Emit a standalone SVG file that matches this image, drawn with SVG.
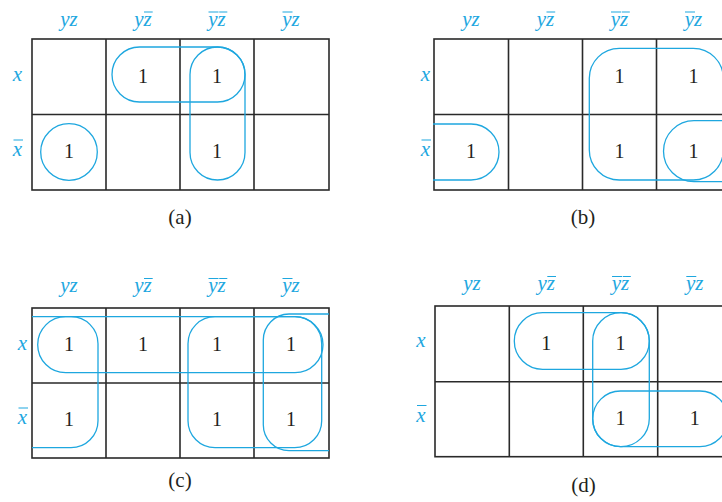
<svg xmlns="http://www.w3.org/2000/svg" width="722" height="502" viewBox="0 0 722 502">
<style>
.grid{fill:none;stroke:#2a2a2a;stroke-width:1.6}
.loop{fill:none;stroke:#1ea7df;stroke-width:1.3}
.bar{fill:none;stroke:#1ea7df;stroke-width:1.1}
.hdr{font-family:"Liberation Serif","Times New Roman",serif;font-style:italic;font-size:21px;fill:#1ea7df;text-anchor:middle}
.one{font-family:"Liberation Serif","Times New Roman",serif;font-size:20px;fill:#231f20;text-anchor:middle}
.cap{font-family:"Liberation Serif","Times New Roman",serif;font-size:21px;fill:#231f20;text-anchor:middle}
</style>
<rect width="722" height="502" fill="#fff"/>

<g id="map-a">
  <g id="a-grid">
    <rect class="grid" x="32" y="39" width="297" height="151"/>
    <path class="grid" d="M106,39V190M180,39V190M254,39V190M32,114.5H329"/>
  </g>
  <g id="a-headers">
    <text class="hdr" x="69" y="25.5">yz</text>
    <text class="hdr" x="143" y="25.5">yz</text>
    <text class="hdr" x="217" y="25.5">yz</text>
    <text class="hdr" x="291" y="25.5">yz</text>
    <text class="hdr" x="17.5" y="81">x</text>
    <text class="hdr" x="17.5" y="156">x</text>
    <path class="bar" d="M144,12H152.7M208.5,12H218.5M219.2,12H227.3M282.5,12H292.5M13.5,140H23"/>
  </g>
  <g id="a-cells">
    <text class="one" x="143" y="82.5">1</text>
    <text class="one" x="217" y="82.5">1</text>
    <text class="one" x="69" y="157.5">1</text>
    <text class="one" x="217" y="157.5">1</text>
  </g>
  <g id="a-loops">
    <circle class="loop" cx="69" cy="152" r="28.3"/>
    <rect class="loop" x="112" y="47" width="133" height="55" rx="27.5"/>
    <rect class="loop" x="190" y="47" width="55" height="133" rx="27.5"/>
  </g>
  <text class="cap" x="180" y="224">(a)</text>
</g>

<g id="map-b">
  <g id="b-grid">
    <rect class="grid" x="434" y="39" width="297" height="151"/>
    <path class="grid" d="M508.5,39V190M582.5,39V190M656.5,39V190M434,114.5H731"/>
  </g>
  <g id="b-headers">
    <text class="hdr" x="471" y="25.5">yz</text>
    <text class="hdr" x="545.5" y="25.5">yz</text>
    <text class="hdr" x="619.5" y="25.5">yz</text>
    <text class="hdr" x="693.5" y="25.5">yz</text>
    <text class="hdr" x="425.5" y="81">x</text>
    <text class="hdr" x="425.5" y="156">x</text>
    <path class="bar" d="M546.5,12H555.2M611,12H621M621.7,12H629.8M685,12H695M421.5,140H431"/>
  </g>
  <g id="b-cells">
    <text class="one" x="619.5" y="82.5">1</text>
    <text class="one" x="693.5" y="82.5">1</text>
    <text class="one" x="471" y="157.5">1</text>
    <text class="one" x="619.5" y="157.5">1</text>
    <text class="one" x="693.5" y="157.5">1</text>
  </g>
  <g id="b-loops">
    <rect class="loop" x="589.3" y="48.3" width="134" height="131.7" rx="30"/>
    <path class="loop" d="M433,124H471A28,28 0 0 1 471,180H433"/>
    <path class="loop" d="M726,120.7H694A30.5,30.5 0 0 0 694,181.7H726"/>
  </g>
  <text class="cap" x="583" y="224">(b)</text>
</g>

<g id="map-c">
  <g id="c-grid">
    <rect class="grid" x="32" y="308" width="297" height="150"/>
    <path class="grid" d="M106,308V458M180,308V458M254,308V458M32,383H329"/>
  </g>
  <g id="c-headers">
    <text class="hdr" x="69" y="292">yz</text>
    <text class="hdr" x="143" y="292">yz</text>
    <text class="hdr" x="217" y="292">yz</text>
    <text class="hdr" x="291" y="292">yz</text>
    <text class="hdr" x="22.5" y="350">x</text>
    <text class="hdr" x="22.5" y="424">x</text>
    <path class="bar" d="M144,278.5H152.7M208.5,278.5H218.5M219.2,278.5H227.3M282.5,278.5H292.5M18.5,408H28"/>
  </g>
  <g id="c-cells">
    <text class="one" x="69" y="351">1</text>
    <text class="one" x="143" y="351">1</text>
    <text class="one" x="217" y="351">1</text>
    <text class="one" x="291" y="351">1</text>
    <text class="one" x="69" y="426">1</text>
    <text class="one" x="217" y="426">1</text>
    <text class="one" x="291" y="426">1</text>
  </g>
  <g id="c-loops">
    <rect class="loop" x="37.7" y="316.7" width="285.3" height="56" rx="28"/>
    <rect class="loop" x="188" y="316.7" width="133.7" height="131" rx="27"/>
    <path class="loop" d="M32,316.7H71A27,27 0 0 1 98,343.7V420.7A27,27 0 0 1 71,447.7H32"/>
    <path class="loop" d="M329,314H289A26,26 0 0 0 263.3,340V424.7A26,26 0 0 0 289,450.7H329"/>
  </g>
  <text class="cap" x="180" y="487">(c)</text>
</g>

<g id="map-d">
  <g id="d-grid">
    <rect class="grid" x="435" y="306" width="297" height="150.7"/>
    <path class="grid" d="M509.3,306V456.7M583.3,306V456.7M657.7,306V456.7M435,381.7H732"/>
  </g>
  <g id="d-headers">
    <text class="hdr" x="472" y="290">yz</text>
    <text class="hdr" x="546.3" y="290">yz</text>
    <text class="hdr" x="620.5" y="290">yz</text>
    <text class="hdr" x="694.8" y="290">yz</text>
    <text class="hdr" x="421" y="346.5">x</text>
    <text class="hdr" x="421" y="421.5">x</text>
    <path class="bar" d="M547.3,276.5H556M612,276.5H622M622.7,276.5H630.8M686.3,276.5H696.3M417,405.5H426.5"/>
  </g>
  <g id="d-cells">
    <text class="one" x="546.3" y="349.5">1</text>
    <text class="one" x="620.5" y="349.5">1</text>
    <text class="one" x="620.5" y="424.5">1</text>
    <text class="one" x="694.8" y="424.5">1</text>
  </g>
  <g id="d-loops">
    <rect class="loop" x="514.3" y="312.7" width="135" height="56.6" rx="28.3"/>
    <rect class="loop" x="592.7" y="312.7" width="56.6" height="134" rx="28.3"/>
    <rect class="loop" x="592.7" y="391" width="135" height="55.7" rx="27.8"/>
  </g>
  <text class="cap" x="583.5" y="492">(d)</text>
</g>
</svg>
